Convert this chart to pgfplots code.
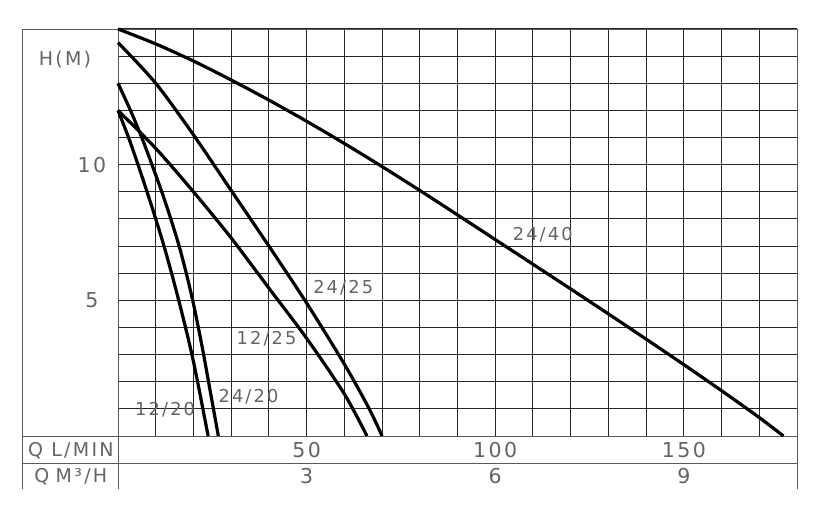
\documentclass[border=0pt]{standalone}
\usepackage{fontspec}
\usepackage{pgfplots}
\pgfplotsset{compat=1.18}
\newfontfamily\lab[LetterSpace=12]{DejaVu Sans}
\definecolor{txt}{RGB}{100,100,100}
\definecolor{frm}{RGB}{90,90,90}
\begin{document}
\begin{tikzpicture}
\useasboundingbox (0,0) rectangle (824bp,524bp);
\begin{axis}[
  at={(118bp,88bp)}, anchor=south west,
  scale only axis, width=679bp, height=407bp,
  xmin=0, xmax=180, ymin=0, ymax=15,
  xtick={0,10,...,180}, ytick={0,1,...,15},
  xticklabels={}, yticklabels={},
  major tick length=0pt,
  grid=major,
  grid style={draw=black!85, line width=1bp},
  axis line style={draw=frm, line width=0.9bp},
  clip=false,
  curve/.style={draw=black, line width=3.2bp, line cap=butt, line join=round, no markers, smooth, tension=0.5},
]
% frame
\draw[frm, line width=0.9bp] (axis cs:-25.2,15) -- (axis cs:180,15);
\draw[frm, line width=0.9bp] (axis cs:-25.2,15) -- (axis cs:-25.2,-1.953);
\draw[frm, line width=0.9bp] (axis cs:0,15) -- (axis cs:0,-1.953);
\draw[frm, line width=0.9bp] (axis cs:-25.2,0) -- (axis cs:180,0);
\draw[frm, line width=0.9bp] (axis cs:-25.2,-0.995) -- (axis cs:180,-0.995);
\draw[frm, line width=0.9bp] (axis cs:180,15) -- (axis cs:180,-1.953);

% 24/40
\addplot[curve] coordinates {(0,15) (10,14.45) (20,13.82) (30,13.12) (40,12.38) (50,11.6) (60,10.78) (70,9.93) (80,9.05) (90,8.15) (100,7.24) (110,6.33) (120,5.42) (130,4.5) (140,3.57) (150,2.63) (160,1.67) (170,0.68) (176.4,0)};
% 24/25
\addplot[curve] coordinates {(0,14.5) (10,13.0) (20,11.1) (30,9.05) (40,7.0) (50,4.9) (60,2.65) (66.6,1) (70,0)};
% 12/25
\addplot[curve] coordinates {(0,12) (10,10.6) (20,9.0) (30,7.3) (40,5.45) (50,3.6) (60,1.55) (66,0)};
% 24/20
\addplot[curve] coordinates {(0,13) (3.3,12) (6.3,11) (9.0,10) (11.6,9) (14.0,8) (16.2,7) (18.1,6) (19.8,5) (21.3,4) (22.7,3) (24.0,2) (25.3,1) (26.6,0)};
% 12/20
\addplot[curve] coordinates {(0,12) (2.8,11) (5.3,10) (7.7,9) (10.0,8) (12.2,7) (14.2,6) (16.1,5) (17.9,4) (19.6,3) (21.1,2) (22.5,1) (23.9,0)};

% curve labels
\node[txt, font=\lab\fontsize{17.8bp}{20bp}\selectfont] at (axis cs:112.6,7.4) {24/40};
\node[txt, font=\lab\fontsize{17.8bp}{20bp}\selectfont] at (axis cs:59.7,5.45) {24/25};
\node[txt, font=\lab\fontsize{17.8bp}{20bp}\selectfont] at (axis cs:39.4,3.6) {12/25};
\node[txt, font=\lab\fontsize{17.8bp}{20bp}\selectfont] at (axis cs:34.6,1.45) {24/20};
\node[txt, font=\lab\fontsize{17.8bp}{20bp}\selectfont] at (axis cs:12.5,0.96) {12/20};

% left column
\node[txt, font=\lab\fontsize{19bp}{22bp}\selectfont] at (axis cs:-14.05,13.86) {H(M)};
\node[txt, font=\lab\fontsize{20.5bp}{22bp}\selectfont] at (axis cs:-6.9,10) {10};
\node[txt, font=\lab\fontsize{20.5bp}{22bp}\selectfont] at (axis cs:-6.9,5) {5};
\node[txt, font=\lab\fontsize{19bp}{22bp}\selectfont] at (axis cs:-12.5,-0.53) {Q L/MIN};
\node[txt, font=\lab\fontsize{19bp}{22bp}\selectfont] at (axis cs:-12.5,-1.49) {Q\,\,M³/H};

% bottom rows
\node[txt, font=\lab\fontsize{20.5bp}{22bp}\selectfont] at (axis cs:50,-0.53) {50};
\node[txt, font=\lab\fontsize{20.5bp}{22bp}\selectfont] at (axis cs:100,-0.53) {100};
\node[txt, font=\lab\fontsize{20.5bp}{22bp}\selectfont] at (axis cs:150,-0.53) {150};
\node[txt, font=\lab\fontsize{20.5bp}{22bp}\selectfont] at (axis cs:50,-1.49) {3};
\node[txt, font=\lab\fontsize{20.5bp}{22bp}\selectfont] at (axis cs:100,-1.49) {6};
\node[txt, font=\lab\fontsize{20.5bp}{22bp}\selectfont] at (axis cs:150,-1.49) {9};
\end{axis}
\end{tikzpicture}
\end{document}
